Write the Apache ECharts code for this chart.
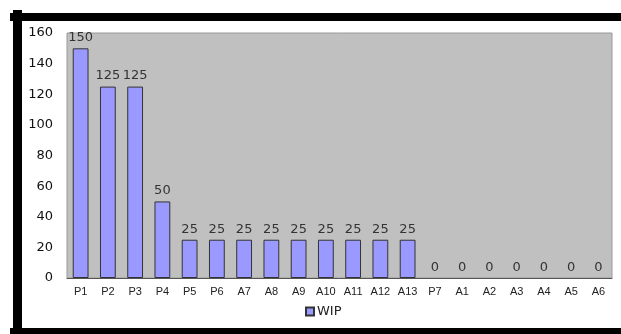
<!DOCTYPE html>
<html>
<head>
<meta charset="utf-8">
<script src="https://cdn.jsdelivr.net/npm/echarts@6/dist/echarts.min.js"></script>
<style>
  html, body { margin: 0; padding: 0; background: #fff; }
  #wrap { position: relative; width: 621px; height: 334px; overflow: hidden; }
  #chart { position: absolute; left: 0; top: 0; width: 621px; height: 334px; }
  .edge { position: absolute; background: #000; }
</style>
</head>
<body>
<div id="wrap">
  <div id="chart"></div>
  <!-- heavy frame around the chart -->
  <div class="edge" style="left:10px; top:13px; width:611px; height:8px;"></div>
  <div class="edge" style="left:13px; top:10px; width:9px; height:324px;"></div>
  <div class="edge" style="left:10px; top:328px; width:611px; height:6px;"></div>
</div>
<script>
const categories = ['P1','P2','P3','P4','P5','P6','A7','A8','A9','A10','A11','A12','A13','P7','A1','A2','A3','A4','A5','A6'];
const wipValues = [150,125,125,50,25,25,25,25,25,25,25,25,25,0,0,0,0,0,0,0];
const yTicks = { min: 0, max: 160, interval: 20 };

const wide = 'DejaVu Sans, Verdana, sans-serif';

// empty bars get no fill or outline so only their "0" label shows
const barData = wipValues.map(v => v === 0
  ? { value: v, itemStyle: { color: 'transparent', borderColor: 'transparent', borderWidth: 0 } }
  : v);

const chart = echarts.init(document.getElementById('chart'), null, { renderer: 'canvas' });
chart.setOption({
  animation: false,
  textStyle: { fontFamily: 'Liberation Sans, Arial, sans-serif' },
  grid: {
    left: 67, right: 9, top: 33, bottom: 56,
    show: true, backgroundColor: '#c0c0c0', borderColor: '#9a9a9a', borderWidth: 1
  },
  legend: {
    data: ['WIP'], bottom: 11, left: 300,
    itemWidth: 8, itemHeight: 8, itemGap: 4,
    icon: 'rect',
    textStyle: { fontSize: 13, fontFamily: wide, color: '#222', padding: [0, 0, 0, -2] }
  },
  xAxis: {
    type: 'category', data: categories,
    axisLine: { lineStyle: { color: '#555', width: 1 } },
    axisTick: { show: false },
    axisLabel: { fontSize: 11, color: '#222', margin: 8, interval: 0 }
  },
  yAxis: {
    type: 'value', min: yTicks.min, max: yTicks.max, interval: yTicks.interval,
    axisLine: { show: false }, axisTick: { show: false },
    splitLine: { show: false },
    axisLabel: { fontSize: 13, fontFamily: wide, color: '#111', margin: 14 }
  },
  series: [{
    name: 'WIP', type: 'bar', data: barData,
    barWidth: '58%',
    itemStyle: { color: '#9999ff', borderColor: '#333', borderWidth: 1 },
    label: { show: true, position: 'top', distance: 4, fontSize: 13, fontFamily: wide, color: '#333' }
  }]
});
</script>
</body>
</html>
